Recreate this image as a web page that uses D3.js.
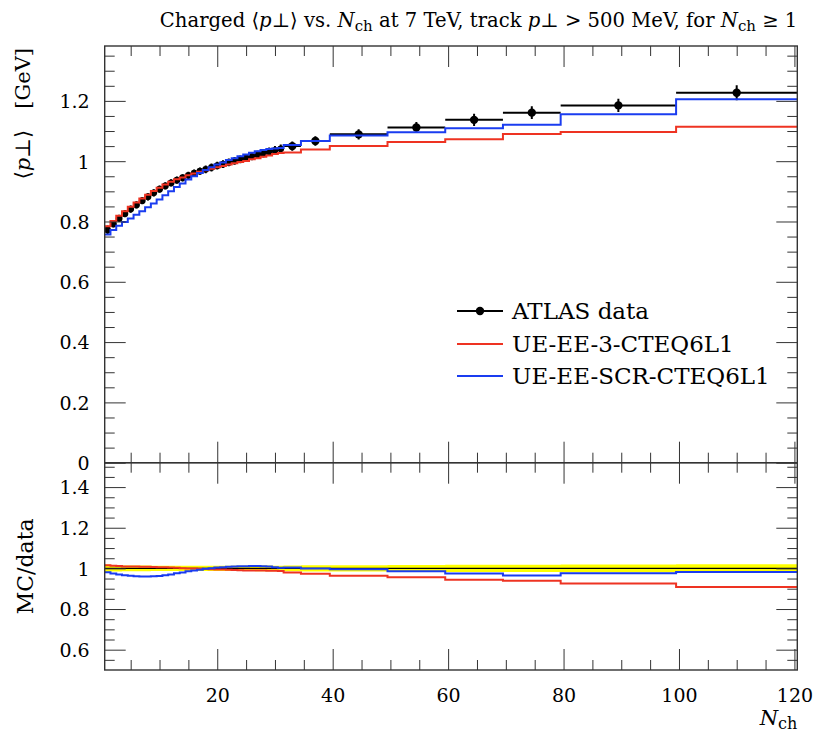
<!DOCTYPE html>
<html><head><meta charset="utf-8">
<script src="https://cdn.jsdelivr.net/npm/d3@7"></script>
<style>body{margin:0;background:#fff}svg{display:block}text{font-family:"DejaVu Serif",serif;fill:#000}</style>
</head><body><svg id="c" width="815" height="735"></svg>
<script>
// ---- data ----
const binEdges = [0.5,1.5,2.5,3.5,4.5,5.5,6.5,7.5,8.5,9.5,10.5,11.5,12.5,13.5,14.5,15.5,16.5,17.5,18.5,19.5,20.5,21.5,22.5,23.5,24.5,25.5,26.5,27.5,28.5,29.5,30.5,31.5,34.5,39.5,49.5,59.5,69.5,79.5,99.5,120.5];
const dataVal = [0.772,0.792,0.810,0.826,0.841,0.855,0.869,0.882,0.895,0.907,0.918,0.928,0.937,0.945,0.953,0.960,0.967,0.973,0.979,0.985,0.990,0.996,1.001,1.006,1.011,1.016,1.021,1.026,1.031,1.036,1.041,1.050,1.067,1.089,1.112,1.137,1.161,1.185,1.227];
const dataErr = [0.015,0.012,0.012,0.012,0.012,0.012,0.012,0.012,0.012,0.012,0.012,0.012,0.012,0.012,0.012,0.012,0.012,0.013,0.013,0.013,0.013,0.013,0.013,0.013,0.013,0.013,0.014,0.014,0.014,0.014,0.014,0.015,0.016,0.017,0.018,0.020,0.021,0.022,0.025];
const mcRed = [0.784,0.802,0.819,0.834,0.849,0.863,0.876,0.889,0.901,0.912,0.923,0.932,0.940,0.946,0.953,0.959,0.965,0.970,0.975,0.980,0.984,0.989,0.993,0.997,1.001,1.006,1.010,1.015,1.019,1.024,1.027,1.029,1.039,1.050,1.064,1.073,1.090,1.097,1.114];
const mcBlue = [0.757,0.772,0.786,0.798,0.810,0.822,0.834,0.847,0.860,0.873,0.887,0.900,0.914,0.926,0.939,0.950,0.961,0.971,0.980,0.989,0.996,1.004,1.010,1.016,1.022,1.028,1.033,1.037,1.040,1.042,1.044,1.054,1.067,1.085,1.096,1.109,1.121,1.156,1.205];
const seriesNames = ["ATLAS data","UE-EE-3-CTEQ6L1","UE-EE-SCR-CTEQ6L1"];
const xMajor = [20,40,60,80,100,120];
const xMinor = [5,10,15,25,30,35,45,50,55,65,70,75,85,90,95,105,110,115];
const yMajor = [0,0.2,0.4,0.6,0.8,1,1.2];
const yMinor = [0.05,0.1,0.15,0.25,0.3,0.35,0.45,0.5,0.55,0.65,0.7,0.75,0.85,0.9,0.95,1.05,1.1,1.15,1.25,1.3,1.35];
const rMajor = [0.6,0.8,1,1.2,1.4];
const rMinor = [0.55,0.65,0.7,0.75,0.85,0.9,0.95,1.05,1.1,1.15,1.25,1.3,1.35,1.45,1.5];
const RED = "#ee3322", BLUE = "#1a3cf0", FRAME = "#333";

// ---- layout ----
const L = 104.7, R = 797.3, T = 46, M = 462.7, B = 670;
const svg = d3.select("#c");
const x = d3.scaleLinear().domain([0.5,120.5]).range([L,R]);
const y = d3.scaleLinear().domain([0,1.382]).range([M,T]);
const yr = d3.scaleLinear().domain([0.5,1.52]).range([B,M]);

const bins = dataVal.map((v,i)=>({lo:binEdges[i],hi:binEdges[i+1],c:(binEdges[i]+binEdges[i+1])/2,v,e:dataErr[i],r:mcRed[i],b:mcBlue[i]}));

function stepPath(sx, sy, vals){
  let p = "";
  bins.forEach((d,i)=>{
    const yy = sy(vals[i]);
    p += (i===0?"M":"L")+sx(d.lo)+","+yy+"L"+sx(d.hi)+","+yy;
  });
  return p;
}

svg.append("clipPath").attr("id","cm").append("rect").attr("x",L).attr("y",T).attr("width",R-L).attr("height",M-T);
svg.append("clipPath").attr("id","cr").append("rect").attr("x",L).attr("y",M).attr("width",R-L).attr("height",B-M);

// ---- ratio panel ----
const gr = svg.append("g").attr("clip-path","url(#cr)");
let bandPts = [];
bins.forEach(d=>{
  bandPts.push({x:d.lo,lo:1-d.e/d.v,hi:1+d.e/d.v});
  bandPts.push({x:d.hi,lo:1-d.e/d.v,hi:1+d.e/d.v});
});
gr.append("path").attr("d", d3.area().x(d=>x(d.x)).y0(d=>yr(d.lo)).y1(d=>yr(d.hi))(bandPts)).attr("fill","#ffff00").attr("stroke","none");
gr.append("line").attr("x1",L).attr("x2",R).attr("y1",yr(1)).attr("y2",yr(1)).attr("stroke","#000").attr("stroke-width",1.2);
gr.append("path").attr("d", stepPath(x, yr, bins.map(d=>d.r/d.v))).attr("fill","none").attr("stroke",RED).attr("stroke-width",2);
gr.append("path").attr("d", stepPath(x, yr, bins.map(d=>d.b/d.v))).attr("fill","none").attr("stroke",BLUE).attr("stroke-width",2);

// ---- main panel ----
const gm = svg.append("g").attr("clip-path","url(#cm)");
const pts = gm.append("g");
pts.selectAll("line.h").data(bins).join("line").attr("x1",d=>x(d.lo)).attr("x2",d=>x(d.hi)).attr("y1",d=>y(d.v)).attr("y2",d=>y(d.v)).attr("stroke","#000").attr("stroke-width",2);
pts.selectAll("line.v").data(bins).join("line").attr("x1",d=>x(d.c)).attr("x2",d=>x(d.c)).attr("y1",d=>y(d.v-d.e)).attr("y2",d=>y(d.v+d.e)).attr("stroke","#000").attr("stroke-width",2);
pts.selectAll("circle").data(bins).join("circle").attr("cx",d=>x(d.c)).attr("cy",d=>y(d.v)).attr("r",d=>(d.hi-d.lo)>2?4.2:3.4).attr("fill","#000");
gm.append("path").attr("d", stepPath(x, y, mcRed)).attr("fill","none").attr("stroke",RED).attr("stroke-width",2);
gm.append("path").attr("d", stepPath(x, y, mcBlue)).attr("fill","none").attr("stroke",BLUE).attr("stroke-width",2);

// ---- axes / ticks ----
function ticks(g, axisFn, scale, vals, size){
  const a = axisFn(scale).tickValues(vals).tickSizeInner(size).tickSizeOuter(0).tickFormat("");
  g.call(a);
  g.select(".domain").remove();
  g.selectAll(".tick line").attr("stroke",FRAME).attr("stroke-width",1);
  return g;
}
function labels(g, axisFn, scale, vals){
  const a = axisFn(scale).tickValues(vals).tickSize(0).tickFormat(d=>String(d));
  g.call(a);
  g.select(".domain").remove();
  g.selectAll("text").style("font-family","DejaVu Serif").style("font-size","19px").attr("fill","#000");
  return g;
}
// main panel
ticks(svg.append("g").attr("transform",`translate(${L},0)`), d3.axisLeft, y, yMajor, -21);
ticks(svg.append("g").attr("transform",`translate(${L},0)`), d3.axisLeft, y, yMinor, -10);
ticks(svg.append("g").attr("transform",`translate(${R},0)`), d3.axisRight, y, yMajor, -21);
ticks(svg.append("g").attr("transform",`translate(${R},0)`), d3.axisRight, y, yMinor, -10);
ticks(svg.append("g").attr("transform",`translate(0,${T})`), d3.axisTop, x, xMajor, -21);
ticks(svg.append("g").attr("transform",`translate(0,${T})`), d3.axisTop, x, xMinor, -10);
ticks(svg.append("g").attr("transform",`translate(0,${M})`), d3.axisBottom, x, xMajor, -21);
ticks(svg.append("g").attr("transform",`translate(0,${M})`), d3.axisBottom, x, xMinor, -10);
labels(svg.append("g").attr("transform",`translate(${L-12},0)`), d3.axisLeft, y, yMajor).selectAll("text").attr("dy","0.36em");
// ratio panel
ticks(svg.append("g").attr("transform",`translate(${L},0)`), d3.axisLeft, yr, rMajor, -21);
ticks(svg.append("g").attr("transform",`translate(${L},0)`), d3.axisLeft, yr, rMinor, -10);
ticks(svg.append("g").attr("transform",`translate(${R},0)`), d3.axisRight, yr, rMajor, -21);
ticks(svg.append("g").attr("transform",`translate(${R},0)`), d3.axisRight, yr, rMinor, -10);
ticks(svg.append("g").attr("transform",`translate(0,${M})`), d3.axisTop, x, xMajor, -21);
ticks(svg.append("g").attr("transform",`translate(0,${M})`), d3.axisTop, x, xMinor, -10);
ticks(svg.append("g").attr("transform",`translate(0,${B})`), d3.axisBottom, x, xMajor, -21);
ticks(svg.append("g").attr("transform",`translate(0,${B})`), d3.axisBottom, x, xMinor, -10);
labels(svg.append("g").attr("transform",`translate(${L-12},0)`), d3.axisLeft, yr, rMajor).selectAll("text").attr("dy","0.36em");
labels(svg.append("g").attr("transform",`translate(0,${B+15})`), d3.axisBottom, x, xMajor).selectAll("text").attr("dy","0.71em");

// frames
svg.append("rect").attr("x",L).attr("y",T).attr("width",R-L).attr("height",M-T).attr("fill","none").attr("stroke",FRAME).attr("stroke-width",1.4);
svg.append("rect").attr("x",L).attr("y",M).attr("width",R-L).attr("height",B-M).attr("fill","none").attr("stroke",FRAME).attr("stroke-width",1.4);

// ---- texts ----
function seg(t, parts, subSize){
  parts.forEach(p=>{
    const s = t.append("tspan").text(p.t);
    if(p.i) s.style("font-style","italic");
    if(p.sub) s.attr("baseline-shift","-25%").style("font-size",subSize+"px");
  });
}
const title = svg.append("text").attr("x",R).attr("y",27).attr("text-anchor","end").style("font-size","19.6px");
seg(title,[{t:"Charged \u27E8"},{t:"p",i:1},{t:"\u22A5\u27E9 vs. "},{t:"N",i:1},{t:"ch",sub:1},{t:" at 7 TeV, track "},{t:"p",i:1},{t:"\u22A5 > 500 MeV, for "},{t:"N",i:1},{t:"ch",sub:1},{t:" \u2265 1"}],15);

const yl = svg.append("text").attr("transform",`translate(30,${T+2}) rotate(-90)`).attr("text-anchor","end").style("font-size","21px");
seg(yl,[{t:"\u27E8"},{t:"p",i:1},{t:"\u22A5\u27E9\u2003[GeV]"}],15);
svg.append("text").attr("transform",`translate(33,${(M+B)/2}) rotate(-90)`).attr("text-anchor","middle").style("font-size","22px").text("MC/data");
const xl = svg.append("text").attr("x",R).attr("y",725).attr("text-anchor","end").style("font-size","21px");
seg(xl,[{t:"N",i:1},{t:"ch",sub:1}],16);

// legend
const leg = svg.append("g");
const rows = [311,344,376];
leg.append("line").attr("x1",457).attr("x2",503).attr("y1",rows[0]).attr("y2",rows[0]).attr("stroke","#000").attr("stroke-width",2);
leg.append("circle").attr("cx",480).attr("cy",rows[0]).attr("r",4.2).attr("fill","#000");
leg.append("line").attr("x1",457).attr("x2",503).attr("y1",rows[1]).attr("y2",rows[1]).attr("stroke",RED).attr("stroke-width",2);
leg.append("line").attr("x1",457).attr("x2",503).attr("y1",rows[2]).attr("y2",rows[2]).attr("stroke",BLUE).attr("stroke-width",2);
seriesNames.forEach((n,i)=>leg.append("text").attr("x",512).attr("y",rows[i]+8).style("font-size","23px").text(n));
</script></body></html>
